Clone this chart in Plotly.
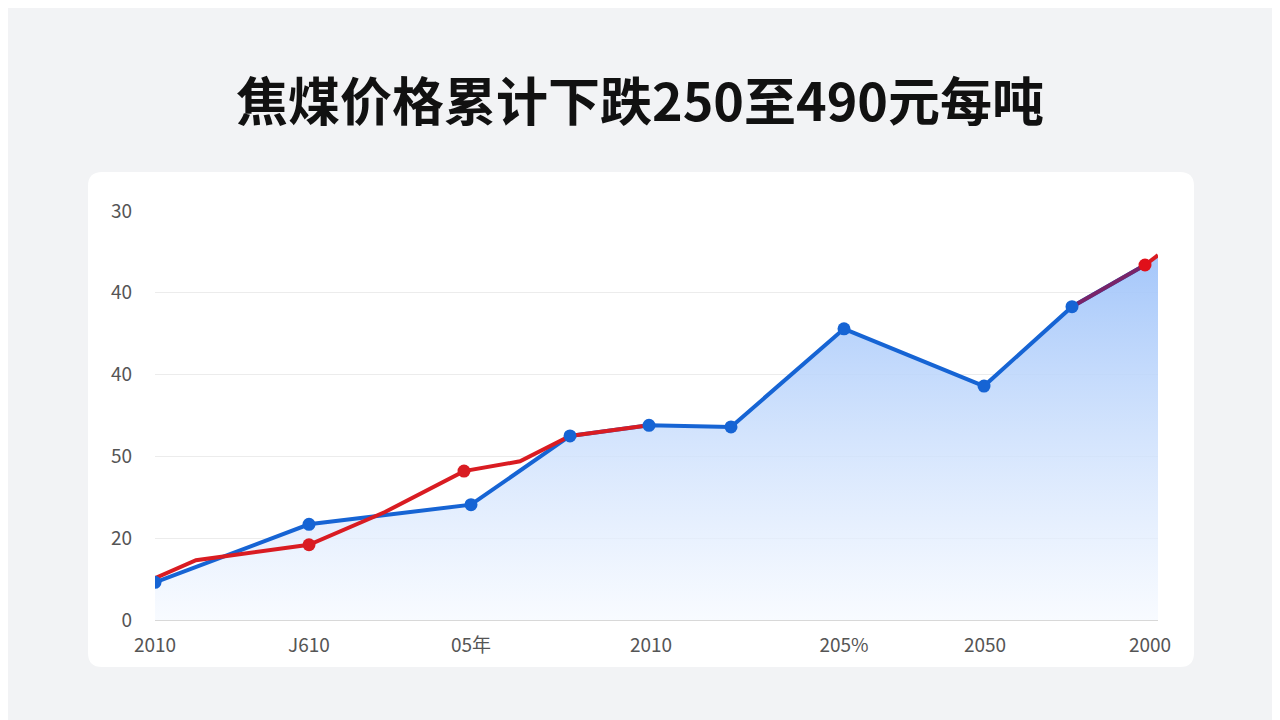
import plotly.graph_objects as go

title = "焦煤价格累计下跌250至490元每吨"
x_tick_vals = [0, 15.4, 31.6, 49.6, 68.9, 83.0, 99.5]
x_tick_text = ["2010", "J610", "05年", "2010", "205%", "2050", "2000"]
y_tick_vals = [0, 1, 2, 3, 4, 5]
y_tick_text = ["0", "20", "50", "40", "40", "30"]

blue_x = [0, 15.4, 31.6, 41.5, 49.4, 57.6, 68.9, 82.9, 91.7, 99.0, 100.3]
blue_y = [0.46, 1.17, 1.41, 2.25, 2.38, 2.36, 3.56, 2.86, 3.83, 4.34, 4.46]
blue_mx = [0, 15.4, 31.6, 41.5, 49.4, 57.6, 68.9, 82.9, 91.7]
blue_my = [0.46, 1.17, 1.41, 2.25, 2.38, 2.36, 3.56, 2.86, 3.83]

red_x = [0, 4.1, 15.4, 23.0, 30.9, 36.5, 41.5, 49.4]
red_y = [0.51, 0.73, 0.92, 1.32, 1.82, 1.94, 2.25, 2.38]
red_mx = [15.4, 30.9]
red_my = [0.92, 1.82]
tail_x = [91.7, 99.0]
tail_y = [3.83, 4.34]
tail2_x = [99.0, 100.3]
tail2_y = [4.34, 4.46]

OFF = 8  # page body margin compensation
W, H = 1280, 720
L, R, T, B = 155 - OFF, 122 + OFF, 211 - OFF, 100 + OFF
pw, ph = W - L - R, H - T - B
def px(xp): return (xp - OFF - L) / pw
def py(yp): return (H - B - (yp - OFF)) / ph

fig = go.Figure()
fig.add_trace(go.Scatter(x=blue_x, y=blue_y, mode="lines", line=dict(color="rgba(0,0,0,0)", width=0),
                         fill="tozeroy",
                         fillgradient=dict(type="vertical", colorscale=[[0, "rgba(245,249,255,0.7)"], [1, "rgba(160,196,250,0.95)"]]),
                         hoverinfo="skip", showlegend=False))
fig.add_trace(go.Scatter(x=blue_x[:-1], y=blue_y[:-1], mode="lines", line=dict(color="#1664d4", width=4), showlegend=False))
fig.add_trace(go.Scatter(x=red_x, y=red_y, mode="lines", line=dict(color="#d91c22", width=4), showlegend=False))
fig.add_trace(go.Scatter(x=tail_x, y=tail_y, mode="lines", line=dict(color="#7a2468", width=4), showlegend=False))
fig.add_trace(go.Scatter(x=tail2_x, y=tail2_y, mode="lines", line=dict(color="#d91c22", width=4), showlegend=False))
fig.add_trace(go.Scatter(x=blue_mx, y=blue_my, mode="markers", marker=dict(color="#1664d4", size=13), showlegend=False))
fig.add_trace(go.Scatter(x=red_mx, y=red_my, mode="markers", marker=dict(color="#d91c22", size=13), showlegend=False))
fig.add_trace(go.Scatter(x=[99.0], y=[4.34], mode="markers", marker=dict(color="#e0101a", size=13), showlegend=False))

x0, x1, y0, y1, r = px(88), px(1194), py(667), py(172), 14
rx, ry = r / pw, r / ph
path = (f"M {x0+rx},{y0} L {x1-rx},{y0} Q {x1},{y0} {x1},{y0+ry} L {x1},{y1-ry} Q {x1},{y1} {x1-rx},{y1} "
        f"L {x0+rx},{y1} Q {x0},{y1} {x0},{y1-ry} L {x0},{y0+ry} Q {x0},{y0} {x0+rx},{y0} Z")
fig.add_shape(type="path", path=path, xref="paper", yref="paper", fillcolor="white",
              line=dict(width=0), layer="below")

fig.update_layout(
    width=W, height=H, margin=dict(l=L, r=R, t=T, b=B),
    paper_bgcolor="#f2f3f5", plot_bgcolor="rgba(0,0,0,0)",
    font=dict(family="Noto Sans CJK SC, Noto Sans", color="#555"),
    title=dict(text=f"<b>{title}</b>", x=(640 - OFF) / W, xanchor="center", y=1 - (103 - OFF) / H, yanchor="middle",
               font=dict(size=52, color="#111", family="Noto Sans CJK SC")),
    xaxis=dict(range=[0, 100.3], tickvals=x_tick_vals, ticktext=x_tick_text, showgrid=False,
               showline=True, linecolor="#d8d8d8", linewidth=1, zeroline=False, ticks="",
               tickfont=dict(size=19, color="#555"), ticklabelstandoff=8),
    yaxis=dict(range=[0, 5], tickvals=y_tick_vals, ticktext=y_tick_text, showgrid=True,
               gridcolor="#ececec", zeroline=False, ticks="", tickfont=dict(size=19, color="#555"),
               ticklabelstandoff=22),
)
fig.write_html("out.html")
